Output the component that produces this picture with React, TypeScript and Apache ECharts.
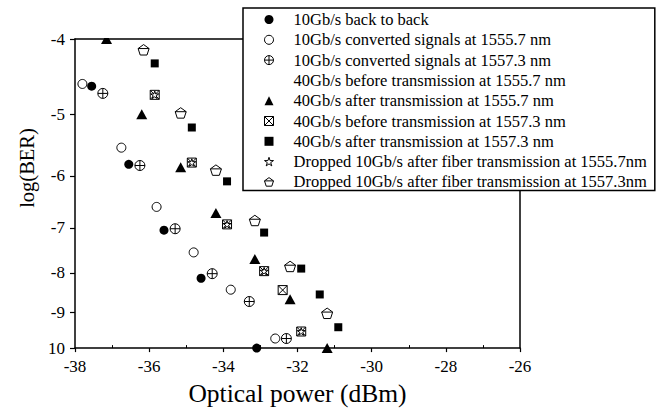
import React, { useEffect, useRef } from 'react';
import * as echarts from 'echarts';

// ---------- data (log10 BER vs optical power in dBm) ----------
const seriesNames = [
  '10Gb/s back to back',
  '10Gb/s converted signals at 1555.7 nm',
  '10Gb/s converted signals at 1557.3 nm',
  '40Gb/s before transmission at 1555.7 nm',
  '40Gb/s after transmission at 1555.7 nm',
  '40Gb/s before transmission at 1557.3 nm',
  '40Gb/s after transmission at 1557.3 nm',
  'Dropped 10Gb/s after fiber transmission at 1555.7nm',
  'Dropped 10Gb/s after fiber transmission at 1557.3nm',
];

const b2bPower = [-37.55, -36.55, -35.6, -34.6, -33.1];
const b2bBer = [-4.6, -5.8, -7.05, -8.13, -10];

const conv1555Power = [-37.8, -36.75, -35.8, -34.8, -33.8, -32.6];
const conv1555Ber = [-4.57, -5.52, -6.58, -7.53, -8.41, -9.72];

const conv1557Power = [-37.25, -36.25, -35.3, -34.3, -33.3, -32.3];
const conv1557Ber = [-4.7, -5.82, -7.02, -8.02, -8.71, -9.72];

const before1555Power: number[] = [];
const before1555Ber: number[] = [];

const after1555Power = [-37.15, -36.2, -35.15, -34.2, -33.15, -32.2, -31.2];
const after1555Ber = [-4.0, -5.0, -5.85, -6.7, -7.68, -8.65, -10];

const before1557Power = [-35.85, -34.85, -33.9, -32.9, -32.4, -31.9];
const before1557Ber = [-4.72, -5.77, -6.93, -7.96, -8.42, -9.52];

const after1557Power = [-35.85, -34.85, -33.9, -32.9, -31.9, -31.4, -30.9];
const after1557Ber = [-4.3, -5.2, -6.1, -7.1, -7.9, -8.53, -9.4];

const drop1555Power = [-35.85, -34.85, -33.9, -32.9, -31.9];
const drop1555Ber = [-4.72, -5.77, -6.93, -7.96, -9.52];

const drop1557Power = [-36.15, -35.15, -34.2, -33.15, -32.2, -31.2];
const drop1557Ber = [-4.13, -4.98, -5.9, -6.85, -7.85, -9.02];

const berTicks = [-4, -5, -6, -7, -8, -9, -10];
const berTickLabels = ['-4', '-5', '-6', '-7', '-8', '-9', '10'];
const powerMinorTicks = [-37, -35, -33, -31, -29, -27];

// ---------- styling ----------
const FONT = '"Liberation Serif", "Times New Roman", serif';
const W = 659;
const H = 411;
const G_LEFT = 75;
const G_TOP = 39;
const G_RIGHT = 139;
const G_BOTTOM = 58;
const LEGEND_LEFT = 243;

const SYM_CIRCLE_PLUS = 'path://M10 0A10 10 0 1 1 10 20A10 10 0 1 1 10 0ZM0 10L20 10M10 0L10 20';
const SYM_SQUARE_X = 'path://M0 0L20 0L20 20L0 20ZM0 0L20 20M20 0L0 20';
const SYM_STAR =
  'path://M10 0L12.25 6.91L19.51 6.91L13.63 11.18L15.88 18.09L10 13.82L4.12 18.09L6.37 11.18L0.49 6.91L7.75 6.91Z';
const SYM_PENT = 'path://M10 0L19.51 6.91L15.88 18.09L4.12 18.09L0.49 6.91ZM0.49 6.91L19.51 6.91';

const toAxis = (ber: number) => Math.log10(-ber);
const pts = (xs: number[], ys: number[]) => xs.map((x, i) => [x, toAxis(ys[i])]);

const filled = { color: '#000', borderWidth: 0 };
const open = { color: '#fff', borderColor: '#000', borderWidth: 1 };
const hidden = { color: 'rgba(0,0,0,0)', borderWidth: 0 };

export default function App() {
  const ref = useRef<HTMLDivElement>(null);

  useEffect(() => {
    document.body.style.margin = '0';
    if (!ref.current) return;
    const chart = echarts.init(ref.current, undefined, { renderer: 'svg' });

    const yMin = toAxis(berTicks[0]);
    const yMax = toAxis(berTicks[berTicks.length - 1]);
    const yCustom = berTicks.map(toAxis);

    const seriesDefs = [
      { data: pts(b2bPower, b2bBer), symbol: 'circle', size: 9, style: filled, z: 4 },
      { data: pts(conv1555Power, conv1555Ber), symbol: 'circle', size: 9, style: open, z: 3 },
      { data: pts(conv1557Power, conv1557Ber), symbol: SYM_CIRCLE_PLUS, size: 10, style: open, z: 3 },
      { data: pts(before1555Power, before1555Ber), symbol: 'circle', size: 8, style: hidden, z: 2 },
      { data: pts(after1555Power, after1555Ber), symbol: 'triangle', size: [11, 10], style: filled, z: 3 },
      { data: pts(before1557Power, before1557Ber), symbol: SYM_SQUARE_X, size: 9, style: open, z: 2 },
      { data: pts(after1557Power, after1557Ber), symbol: 'rect', size: 8, style: filled, z: 3 },
      { data: pts(drop1555Power, drop1555Ber), symbol: SYM_STAR, size: 8, style: open, z: 3 },
      { data: pts(drop1557Power, drop1557Ber), symbol: SYM_PENT, size: 11, style: open, z: 3 },
    ];

    const series = seriesDefs.map((d, i) => ({
      name: seriesNames[i],
      type: 'scatter',
      data: d.data,
      symbol: d.symbol,
      symbolSize: d.size,
      symbolKeepAspect: true,
      itemStyle: { ...d.style, opacity: 1 },
      z: d.z,
      silent: true,
    }));

    const plotW = W - G_LEFT - G_RIGHT;
    const plotH = H - G_TOP - G_BOTTOM;

    chart.setOption({
      animation: false,
      backgroundColor: '#fff',
      grid: { left: G_LEFT, top: G_TOP, right: G_RIGHT, bottom: G_BOTTOM, containLabel: false },
      xAxis: [
        {
          type: 'value',
          position: 'bottom',
          min: -38,
          max: -26,
          interval: 2,
          z: 20,
          axisLine: { show: true, lineStyle: { color: '#000', width: 1.5 } },
          axisTick: { show: true, inside: false, length: 4, lineStyle: { color: '#000', width: 1.2 } },
          axisLabel: { color: '#000', fontFamily: FONT, fontSize: 17, margin: 10 },
          splitLine: { show: false },
          name: 'Optical power (dBm)',
          nameLocation: 'middle',
          nameGap: 30,
          nameTextStyle: { color: '#000', fontFamily: FONT, fontSize: 25.5 },
        },
        {
          type: 'value',
          position: 'bottom',
          min: -38,
          max: -26,
          interval: 1,
          z: 20,
          axisLine: { show: false },
          axisTick: { show: true, inside: true, length: 3, customValues: powerMinorTicks, lineStyle: { color: '#000', width: 1 } },
          axisLabel: { show: false },
          splitLine: { show: false },
        },
        {
          type: 'value',
          position: 'top',
          min: -38,
          max: -26,
          axisLine: { show: true, lineStyle: { color: '#000', width: 1.5 } },
          axisTick: { show: false },
          axisLabel: { show: false },
          splitLine: { show: false },
        },
      ],
      yAxis: [
        {
          type: 'value',
          position: 'left',
          min: yMin,
          max: yMax,
          inverse: true,
          z: 20,
          axisLine: { show: true, lineStyle: { color: '#000', width: 1.5 } },
          axisTick: { show: true, inside: false, length: 5, customValues: yCustom, lineStyle: { color: '#000', width: 1.2 } },
          axisLabel: {
            color: '#000',
            fontFamily: FONT,
            fontSize: 17,
            margin: 10,
            customValues: yCustom,
            formatter: (v: number) => {
              const i = yCustom.findIndex((c) => Math.abs(c - v) < 1e-6);
              return i >= 0 ? berTickLabels[i] : '';
            },
          },
          splitLine: { show: false },
        },
        {
          type: 'value',
          position: 'right',
          min: yMin,
          max: yMax,
          inverse: true,
          axisLine: { show: true, lineStyle: { color: '#000', width: 1.5 } },
          axisTick: { show: false },
          axisLabel: { show: false },
          splitLine: { show: false },
        },
      ],
      legend: {
        orient: 'vertical',
        left: LEGEND_LEFT,
        top: 8,
        padding: [3, 8, 0, 21],
        itemWidth: 9,
        itemHeight: 9,
        itemGap: 3.3,
        backgroundColor: '#fff',
        borderColor: '#000',
        borderWidth: 1.5,
        selectedMode: false,
        z: 30,
        textStyle: { color: '#000', fontFamily: FONT, fontSize: 16.5, padding: [0, 0, 0, 15] },
        data: seriesNames.map((n, i) => ({
          name: n,
          itemStyle: { ...seriesDefs[i].style },
        })),
      },
      graphic: [
        {
          type: 'rect',
          z: 10,
          silent: true,
          shape: { x: G_LEFT + 1, y: 0, width: LEGEND_LEFT - G_LEFT - 1, height: G_TOP - 1 },
          style: { fill: '#fff' },
        },
        {
          type: 'rect',
          z: 10,
          silent: true,
          shape: { x: G_LEFT + 1, y: G_TOP + plotH + 1, width: plotW - 2, height: 8 },
          style: { fill: '#fff' },
        },
        {
          type: 'text',
          z: 20,
          x: 27,
          y: 168,
          rotation: Math.PI / 2,
          silent: true,
          style: {
            text: 'log(BER)',
            fontFamily: FONT,
            fontSize: 20.5,
            fill: '#000',
            align: 'center',
            verticalAlign: 'middle',
          },
        },
      ],
      series,
    });

    return () => chart.dispose();
  }, []);

  return <div ref={ref} style={{ width: W, height: H }} />;
}
